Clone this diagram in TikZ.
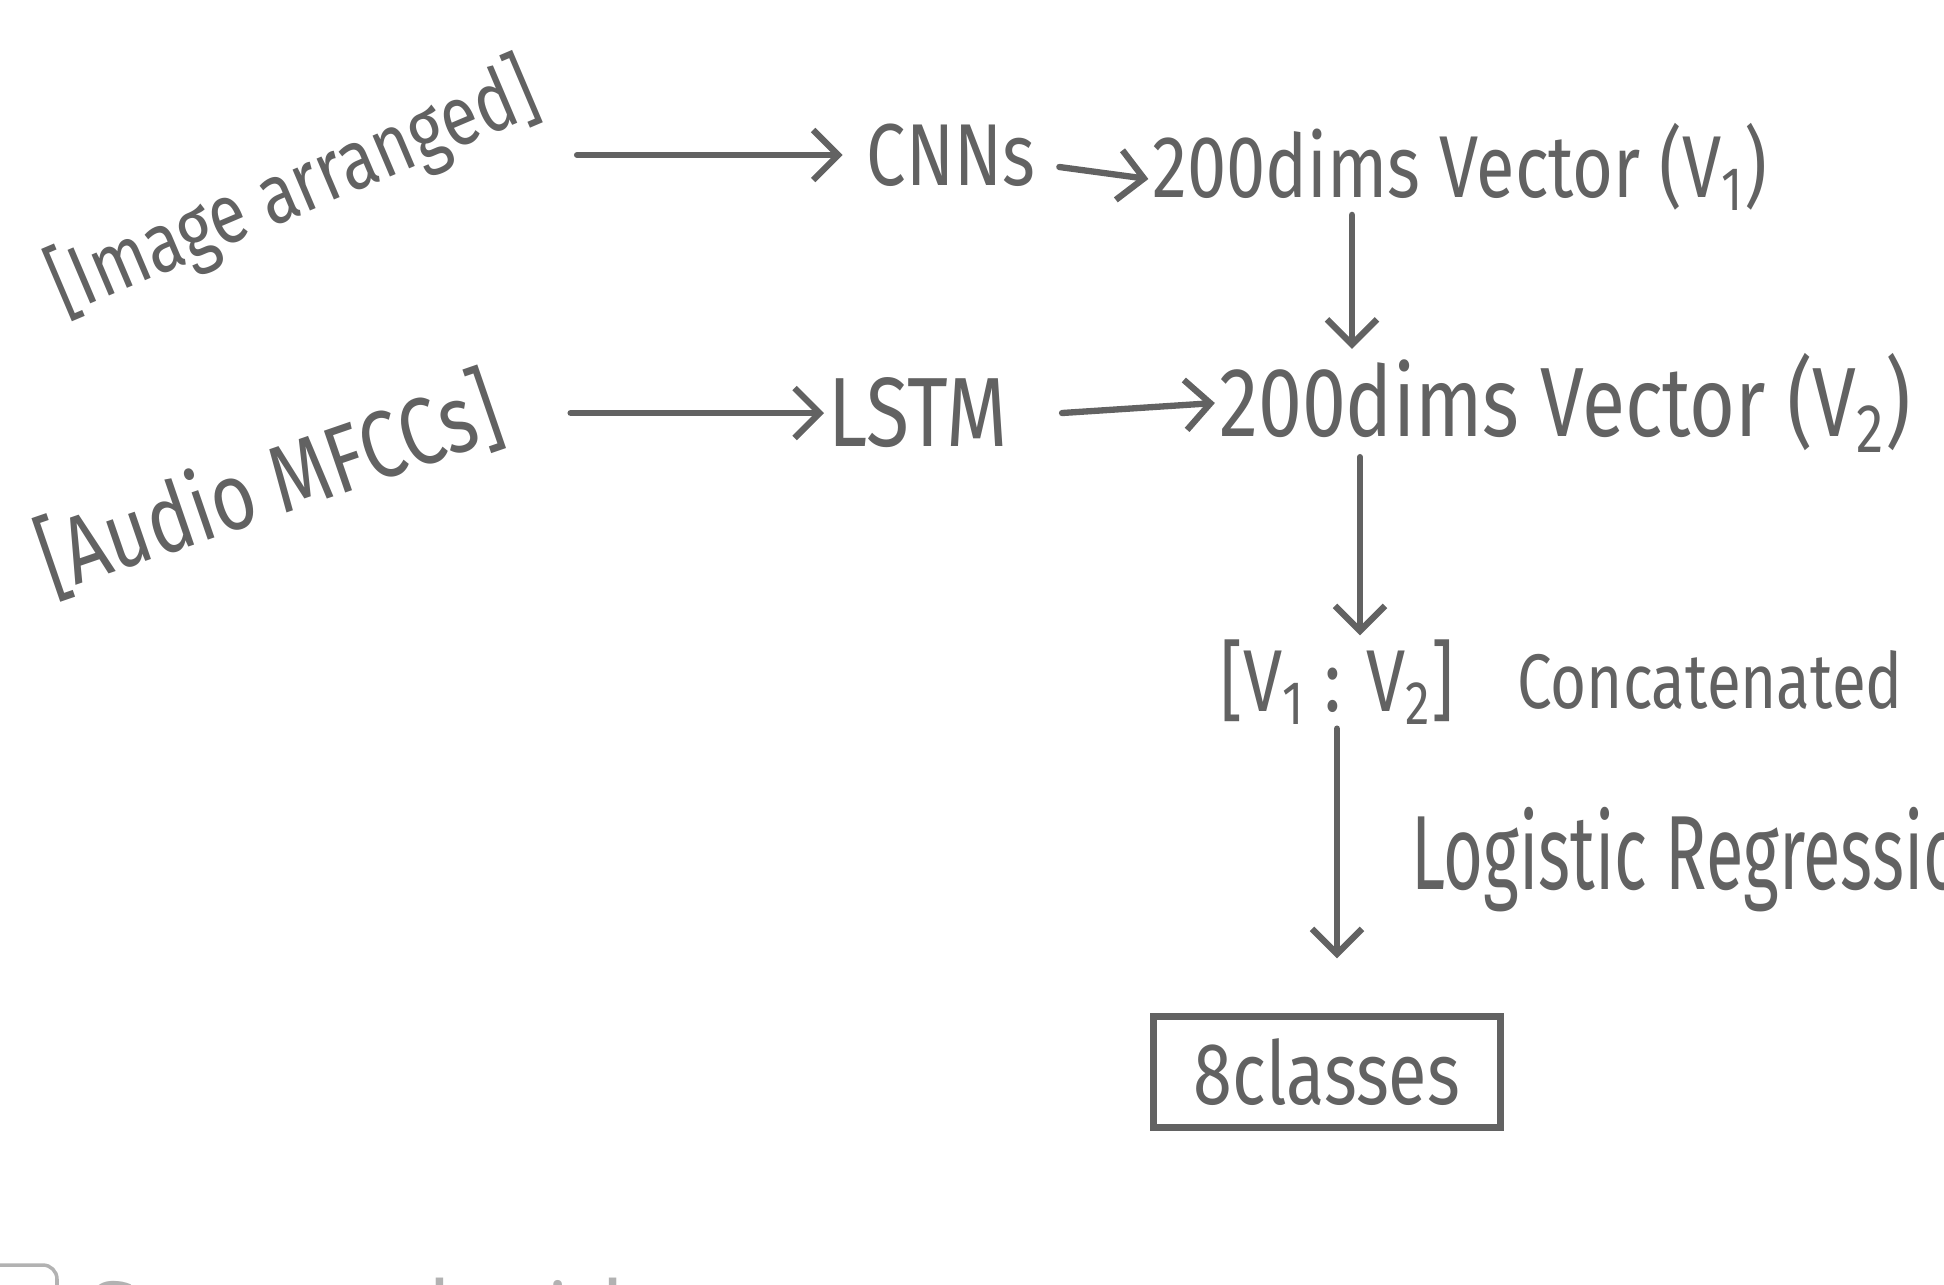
\documentclass[tikz,border=0pt]{standalone}
\usepackage{fontspec}
\setmainfont{Fira Sans}[FakeStretch=0.8]
\newfontfamily\scanfont{Open Sans}
\usetikzlibrary{arrows.meta}
\definecolor{ink}{RGB}{98,98,98}
\begin{document}
\begin{tikzpicture}[
  hand/.style={text=ink,font=\fontsize{25}{29}\selectfont,inner sep=1pt},
  arr/.style={draw=ink,line width=1.8pt,line cap=round,-{Straight Barb[length=2.5mm,width=5mm]}}]
\useasboundingbox (0,0) rectangle (19.44,-12.84);
\node[hand,rotate=23,font=\fontsize{24}{28}\selectfont] (img) at (2.94,-1.9) {[Image arranged]};
\node[hand] (cnn) at (9.51,-1.55) {CNNs};
\node[hand] (vecA) at (14.6,-1.67) {200dims Vector (V\textsubscript{1})};
\node[hand,rotate=19,font=\fontsize{27}{31}\selectfont] (aud) at (2.69,-4.84) {[Audio MFCCs]};
\node[hand,font=\fontsize{28}{32}\selectfont] (lstm) at (9.18,-4.13) {LSTM};
\node[hand,font=\fontsize{28}{32}\selectfont] (vecB) at (15.65,-4.03) {200dims Vector (V\textsubscript{2})};
\node[hand] (catv) at (13.37,-6.82) {[V\textsubscript{1} : V\textsubscript{2}]};
\node[hand,anchor=west,font=\fontsize{22}{26}\selectfont] (catlbl) at (15.13,-6.8) {Concatenated};
\node[hand,anchor=west,font=\addfontfeatures{FakeStretch=0.65}\fontsize{30}{34}\selectfont] (logreg) at (14.07,-8.6) {Logistic Regression};
\node[hand,draw=ink,line width=1.8pt,minimum width=3.47cm,minimum height=1.11cm] (cls) at (13.27,-10.72) {8classes};
\draw[arr] ([xshift=4mm]img.east |- cnn.west) -- ([xshift=-2mm]cnn.west);
\draw[arr] ([shift={(2mm,-1.2mm)}]cnn.east) -- ([yshift=-1.2mm]vecA.west);
\draw[arr] ([xshift=7mm]aud.east |- lstm.west) -- (lstm.west);
\draw[arr] ([xshift=5mm]lstm.east) -- (vecB.west);
\draw[arr] ([xshift=-10.8mm]vecA.south) -- ([xshift=-10.8mm]vecA.south |- vecB.north);
\draw[arr] ([xshift=-20.5mm]vecB.south) -- ([xshift=-20.5mm]vecB.south |- catv.north);
\draw[arr,shorten >=5.5mm] (catv.south) -- (catv.south |- cls.north);
\node[anchor=north west,text=black!30,font=\scanfont\fontsize{26}{30}\selectfont,inner sep=0] (scan) at (0.87,-12.77) {Scanned with};
\draw[black!30,line width=1pt,rounded corners=4pt] (-0.2,-12.65) rectangle (0.57,-13.4);
\end{tikzpicture}
\end{document}
